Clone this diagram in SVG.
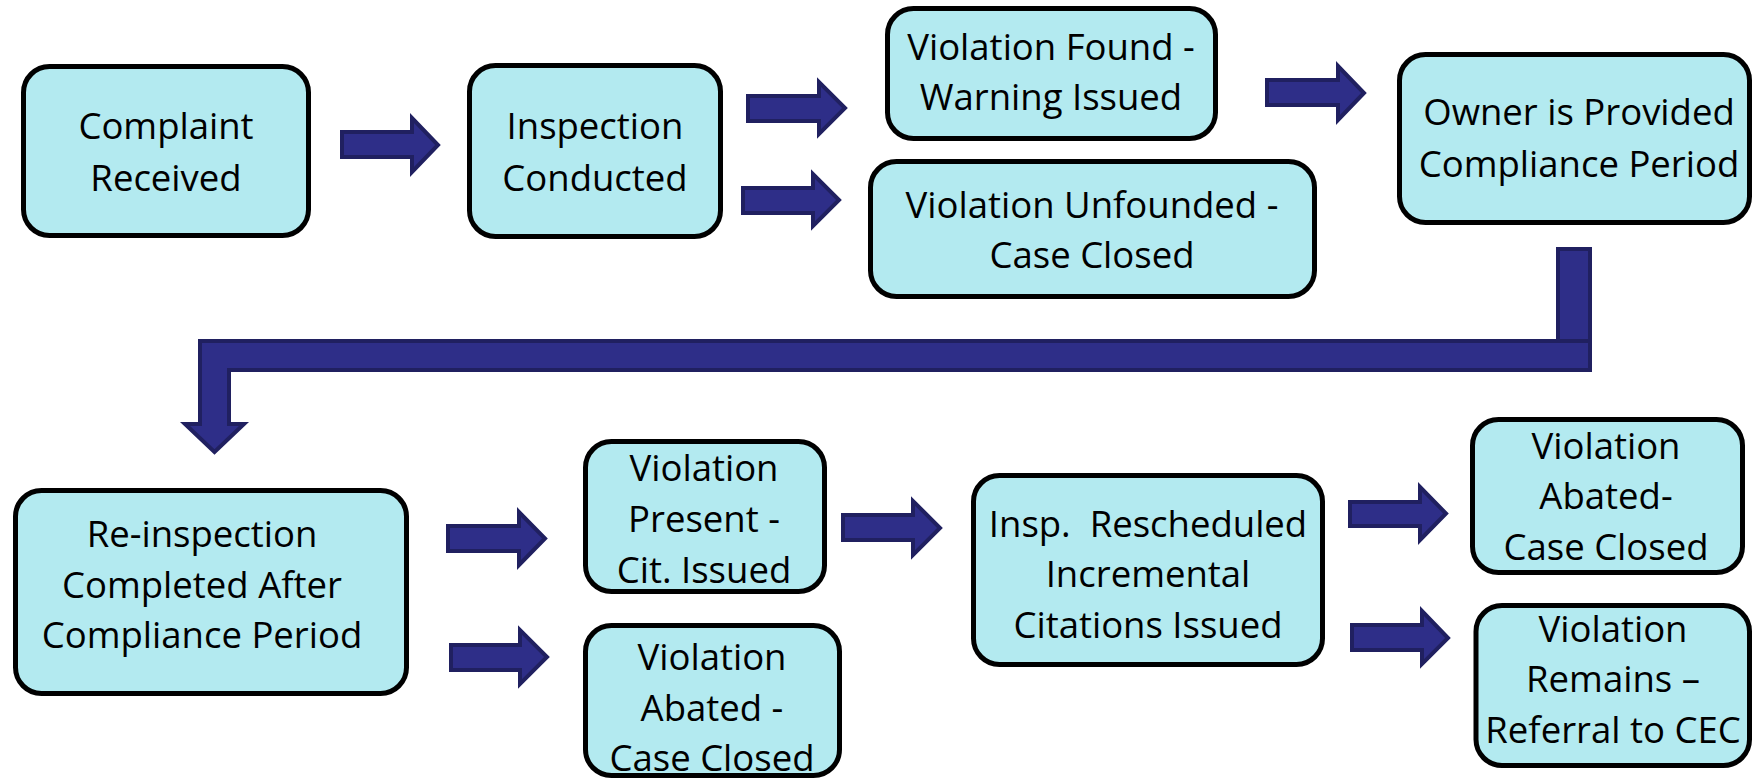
<svg xmlns="http://www.w3.org/2000/svg" width="1758" height="779" viewBox="0 0 1758 779">
<style>
.box{fill:#b3eaf0;stroke:#000;stroke-width:5}
.arr{fill:#2e2e88;stroke:#202060;stroke-width:4;stroke-linejoin:miter}
.t{font-family:"Open Sans","Liberation Sans",sans-serif;font-size:36.5px;fill:#000;text-anchor:middle}
</style>
<rect width="1758" height="779" fill="#fff"/>
<g id="connectors">
<path class="arr" d="M342 132 H412 V118 L438 145 L412 172 V157 H342 Z"/>
<path class="arr" d="M748 96 H819 V82 L845 108 L819 134 V121 H748 Z"/>
<path class="arr" d="M743 188 H813 V174 L839 200 L813 226 V213 H743 Z"/>
<path class="arr" d="M1267 80 H1338 V66 L1364 93 L1338 120 V105 H1267 Z"/>
<rect class="arr" x="1558" y="249" width="32" height="95"/>
<path class="arr" d="M1590 341 V370 H229 V424 H244 L214.5 452 L185 424 H200 V341 Z"/>
<path class="arr" d="M448 526 H519 V512 L545 538.5 L519 565 V551 H448 Z"/>
<path class="arr" d="M451 645 H520 V630 L547 657 L520 684 V670 H451 Z"/>
<path class="arr" d="M843 515 H913 V501 L940 528 L913 555 V540 H843 Z"/>
<path class="arr" d="M1350 502 H1420 V487 L1446 513.5 L1420 540 V526 H1350 Z"/>
<path class="arr" d="M1352 625 H1422 V611 L1448 638 L1422 664 V650 H1352 Z"/>
</g>
<g id="complaint">
<rect class="box" x="23.5" y="66.5" width="285" height="169" rx="26"/>
<text class="t" x="166" y="139">Complaint</text>
<text class="t" x="166" y="191">Received</text>
</g>
<g id="inspection">
<rect class="box" x="469.5" y="65.5" width="251" height="171" rx="26"/>
<text class="t" x="595" y="139">Inspection</text>
<text class="t" x="595" y="191">Conducted</text>
</g>
<g id="found">
<rect class="box" x="887.5" y="8.5" width="328" height="130" rx="26"/>
<text class="t" x="1051" y="60">Violation Found -</text>
<text class="t" x="1051" y="110">Warning Issued</text>
</g>
<g id="unfounded">
<rect class="box" x="870.5" y="161.5" width="444" height="135" rx="26"/>
<text class="t" x="1092" y="218">Violation Unfounded -</text>
<text class="t" x="1092" y="268">Case Closed</text>
</g>
<g id="owner">
<rect class="box" x="1399.5" y="54.5" width="350" height="168" rx="26"/>
<text class="t" x="1579" y="125">Owner is Provided</text>
<text class="t" x="1579" y="177">Compliance Period</text>
</g>
<g id="reinspection">
<rect class="box" x="15.5" y="490.5" width="391" height="203" rx="26"/>
<text class="t" x="202" y="547">Re-inspection</text>
<text class="t" x="202" y="598">Completed After</text>
<text class="t" x="202" y="648">Compliance Period</text>
</g>
<g id="present">
<rect class="box" x="585.5" y="441.5" width="239" height="150" rx="26"/>
<text class="t" x="704" y="481">Violation</text>
<text class="t" x="704" y="532">Present -</text>
<text class="t" x="704" y="583">Cit. Issued</text>
</g>
<g id="abated1">
<rect class="box" x="585.5" y="625.5" width="254" height="150" rx="26"/>
<text class="t" x="712" y="670">Violation</text>
<text class="t" x="712" y="721">Abated -</text>
<text class="t" x="712" y="771">Case Closed</text>
</g>
<g id="rescheduled">
<rect class="box" x="973.5" y="475.5" width="349" height="189" rx="26"/>
<text class="t" x="1148" y="537" xml:space="preserve">Insp.  Rescheduled</text>
<text class="t" x="1148" y="587">Incremental</text>
<text class="t" x="1148" y="638">Citations Issued</text>
</g>
<g id="abated2">
<rect class="box" x="1472.5" y="419.5" width="270" height="153" rx="26"/>
<text class="t" x="1606" y="459">Violation</text>
<text class="t" x="1606" y="509">Abated-</text>
<text class="t" x="1606" y="560">Case Closed</text>
</g>
<g id="remains">
<rect class="box" x="1476" y="605.5" width="273.5" height="160" rx="26"/>
<text class="t" x="1613" y="642">Violation</text>
<text class="t" x="1613" y="692">Remains –</text>
<text class="t" x="1613" y="743">Referral to CEC</text>
</g>
</svg>
